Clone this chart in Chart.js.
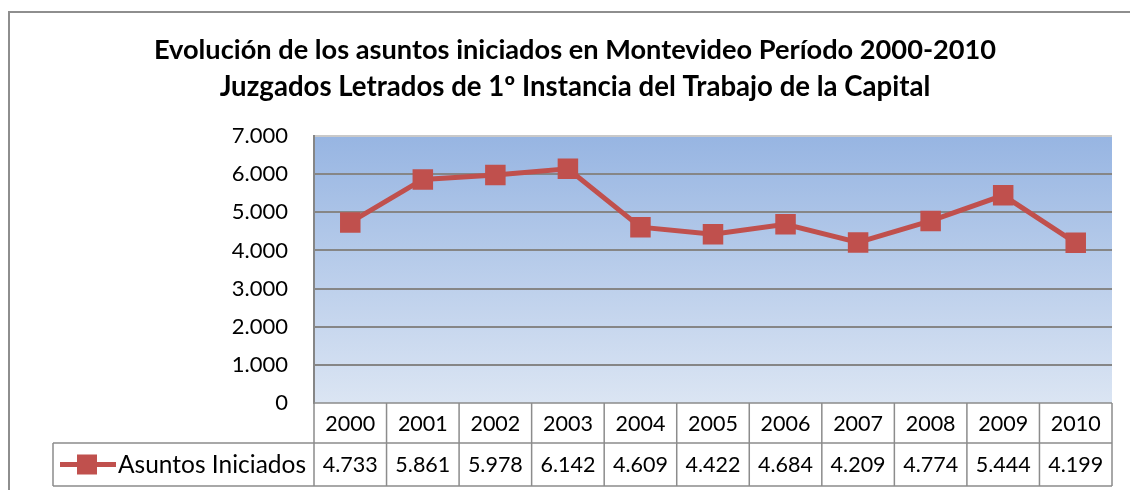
<!DOCTYPE html>
<html>
<head>
<meta charset="utf-8">
<script src="https://cdn.jsdelivr.net/npm/chart.js@4/dist/chart.umd.min.js"></script>
<style>
  html, body { margin: 0; padding: 0; background: #fff; }
  #wrap { width: 1130px; height: 490px; position: relative; }
</style>
</head>
<body>
<div id="wrap"><canvas id="chart" width="1130" height="490"></canvas></div>
<script>
'use strict'

//++++++++++++++ Data ++++++++++++++//
let years = ['2000', '2001', '2002', '2003', '2004', '2005', '2006', '2007', '2008', '2009', '2010'];
let asuntosIniciados = [4733, 5861, 5978, 6142, 4609, 4422, 4684, 4209, 4774, 5444, 4199];
let yTicks = [0, 1000, 2000, 3000, 4000, 5000, 6000, 7000];
let seriesName = 'Asuntos Iniciados';
let titleLines = ['Evolución de los asuntos iniciados en Montevideo Período 2000-2010',
  'Juzgados Letrados de 1º Instancia del Trabajo de la Capital'];

let fontName = 'Lato, "Open Sans", sans-serif';
let red = '#c0504d';
let gridGray = '#868686';

function fmt(n) {
  // thousands separator with a dot
  return String(n).replace(/\B(?=(\d{3})+(?!\d))/g, '.');
}

// pick a font size so the text is about as wide as in the original
function fitFont(ctx, text, weight, width, maxSize) {
  let size = maxSize;
  ctx.font = weight + ' ' + size + 'px ' + fontName;
  let w = ctx.measureText(text).width;
  size = Math.min(maxSize, size * width / w);
  ctx.font = weight + ' ' + size.toFixed(1) + 'px ' + fontName;
}

//++++++++++++++ Plugins ++++++++++++++//
let frame = {
  id: 'frame',
  beforeDraw(chart) {
    let ctx = chart.ctx;
    let a = chart.chartArea;
    ctx.save();
    // outer chart border
    ctx.strokeStyle = '#8e8e8e';
    ctx.lineWidth = 2;
    ctx.beginPath();
    ctx.moveTo(9, 500);
    ctx.lineTo(9, 12);
    ctx.lineTo(1135, 12);
    ctx.stroke();
    // plot area gradient
    let g = ctx.createLinearGradient(0, a.top, 0, a.bottom);
    g.addColorStop(0, '#97b5e2');
    g.addColorStop(1, '#dbe5f3');
    ctx.fillStyle = g;
    ctx.fillRect(a.left, a.top, a.right - a.left, a.bottom - a.top);
    // title
    ctx.fillStyle = '#000';
    ctx.textAlign = 'center';
    ctx.textBaseline = 'middle';
    fitFont(ctx, titleLines[0], 'bold', 844, 30);
    ctx.fillText(titleLines[0], 575, 50);
    fitFont(ctx, titleLines[1], 'bold', 711, 30);
    ctx.fillText(titleLines[1], 575, 87);
    ctx.restore();
  }
};

let dataTable = {
  id: 'dataTable',
  afterDraw(chart) {
    let ctx = chart.ctx;
    let a = chart.chartArea;
    let x = chart.scales.x;
    let row1 = a.bottom, row2 = a.bottom + 40, row3 = a.bottom + 83;
    let legendLeft = 53;
    let colW = (a.right - a.left) / years.length;
    ctx.save();
    ctx.strokeStyle = '#8c8c8c';
    ctx.lineWidth = 1.5;
    ctx.beginPath();
    // horizontal lines
    ctx.moveTo(a.left, row1); ctx.lineTo(a.right, row1);
    ctx.moveTo(legendLeft, row2); ctx.lineTo(a.right, row2);
    ctx.moveTo(legendLeft, row3); ctx.lineTo(a.right, row3);
    // vertical lines
    ctx.moveTo(legendLeft, row2); ctx.lineTo(legendLeft, row3);
    for (let i = 0; i <= years.length; i++) {
      let xx = a.left + i * colW;
      ctx.moveTo(xx, row1); ctx.lineTo(xx, row3);
    }
    ctx.stroke();
    // text
    ctx.fillStyle = '#000';
    ctx.font = '21.5px ' + fontName;
    ctx.textAlign = 'center';
    ctx.textBaseline = 'middle';
    years.forEach((yr, i) => {
      let cx = x.getPixelForValue(i);
      ctx.fillText(yr, cx, (row1 + row2) / 2 + 1);
      ctx.fillText(fmt(asuntosIniciados[i]), cx, (row2 + row3) / 2 + 1);
    });
    // legend key
    let ly = (row2 + row3) / 2;
    ctx.strokeStyle = red;
    ctx.lineWidth = 5;
    ctx.beginPath();
    ctx.moveTo(60, ly); ctx.lineTo(116, ly);
    ctx.stroke();
    ctx.fillStyle = red;
    ctx.fillRect(77, ly - 10, 20, 20);
    ctx.fillStyle = '#000';
    ctx.textAlign = 'left';
    fitFont(ctx, seriesName, 'normal', 189, 24.5);
    ctx.fillText(seriesName, 118, ly + 1);
    ctx.restore();
  }
};

//++++++++++++++ Chart ++++++++++++++//
const ctx = document.getElementById('chart').getContext('2d');
const lineChart = new Chart(ctx, {
  type: 'line',
  data: {
    labels: years,
    datasets: [{
      label: seriesName,
      data: asuntosIniciados,
      borderColor: red,
      backgroundColor: red,
      borderWidth: 5,
      pointStyle: 'rect',
      pointRadius: 14.5,
      pointBorderWidth: 0,
      pointBackgroundColor: red,
      tension: 0
    }]
  },
  options: {
    responsive: false,
    animation: false,
    layout: { padding: { left: 0, top: 136, right: 18, bottom: 87 } },
    plugins: {
      legend: { display: false },
      title: { display: false },
      tooltip: { enabled: false }
    },
    scales: {
      x: {
        type: 'category',
        display: false,
        offset: true
      },
      y: {
        min: 0,
        max: 7000,
        afterFit(scale) { scale.width = 314; },
        afterBuildTicks(scale) { scale.ticks = yTicks.map(v => ({ value: v })); },
        border: { display: true, color: gridGray, width: 2 },
        grid: {
          drawTicks: false,
          lineWidth: 2,
          color: c => (c.tick.value === 7000 ? '#c9c9c9' : (c.tick.value === 0 ? 'rgba(0,0,0,0)' : gridGray))
        },
        ticks: {
          padding: 26,
          color: '#000',
          font: { family: fontName, size: 22 },
          callback: v => fmt(v)
        }
      }
    }
  },
  plugins: [frame, dataTable]
});
</script>
</body>
</html>
